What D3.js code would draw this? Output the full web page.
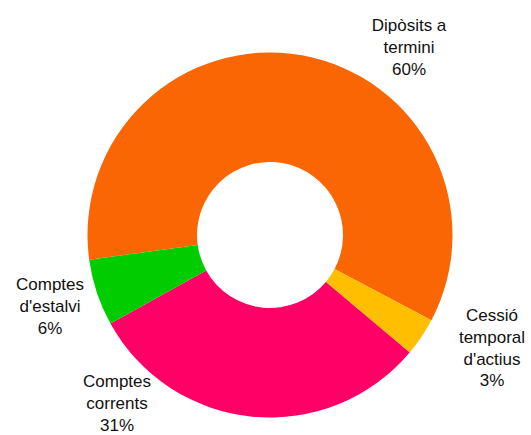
<!DOCTYPE html>
<html>
<head>
<meta charset="utf-8">
<script src="https://cdn.jsdelivr.net/npm/d3@7"></script>
<style>
    body { margin: 0; background: #fff; }
    .slice-label { font-family: "Liberation Sans", Arial, sans-serif; font-size: 17px; fill: #111; }
</style>
</head>
<body>
<div id="chart"></div>
<script>

// Data
let categories = ["Dipòsits a termini", "Cessió temporal d'actius", "Comptes corrents", "Comptes d'estalvi"];
let values = [59.9, 3.4, 30.8, 5.9];
let labelLines = [
    ["Dipòsits a", "termini", "60%"],
    ["Cessió", "temporal", "d'actius", "3%"],
    ["Comptes", "corrents", "31%"],
    ["Comptes", "d'estalvi", "6%"]
];
let colors = ["#f96603", "#ffbf00", "#ff0066", "#00cc00"];

// Layout
let width = 531, height = 435;
let cx = 270, cy = 235;
let outerR = 182.5, innerR = 73;
let startDeg = -97.8;

// label block positions (centre x, first baseline y)
let labelPos = [
    { x: 409, y: 31 },
    { x: 492, y: 321 },
    { x: 117, y: 387 },
    { x: 50, y: 290 }
];
let lineHeight = 21.8;

let svg = d3.select("#chart").append("svg")
    .attr("width", width)
    .attr("height", height);

let g = svg.append("g")
    .attr("transform", "translate(" + cx + "," + cy + ")");

let data = categories.map(function(c, i) {
    return { name: c, value: values[i], color: colors[i], lines: labelLines[i], pos: labelPos[i] };
});

let start = startDeg * Math.PI / 180;
let pie = d3.pie()
    .sort(null)
    .value(function(d) { return d.value; })
    .startAngle(start)
    .endAngle(start + 2 * Math.PI);

let arc = d3.arc()
    .innerRadius(innerR)
    .outerRadius(outerR);

g.selectAll(".slice")
    .data(pie(data))
    .enter().append("path")
    .attr("class", "slice")
    .attr("d", arc)
    .style("fill", function(d) { return d.data.color; });

// Labels
let labels = svg.selectAll(".slice-label")
    .data(data)
    .enter().append("text")
    .attr("class", "slice-label")
    .attr("text-anchor", "middle")
    .attr("x", function(d) { return d.pos.x; })
    .attr("y", function(d) { return d.pos.y; });

labels.selectAll("tspan")
    .data(function(d) { return d.lines.map(function(l) { return { text: l, x: d.pos.x }; }); })
    .enter().append("tspan")
    .attr("x", function(d) { return d.x; })
    .attr("dy", function(d, i) { return i === 0 ? 0 : lineHeight; })
    .text(function(d) { return d.text; });

</script>
</body>
</html>
